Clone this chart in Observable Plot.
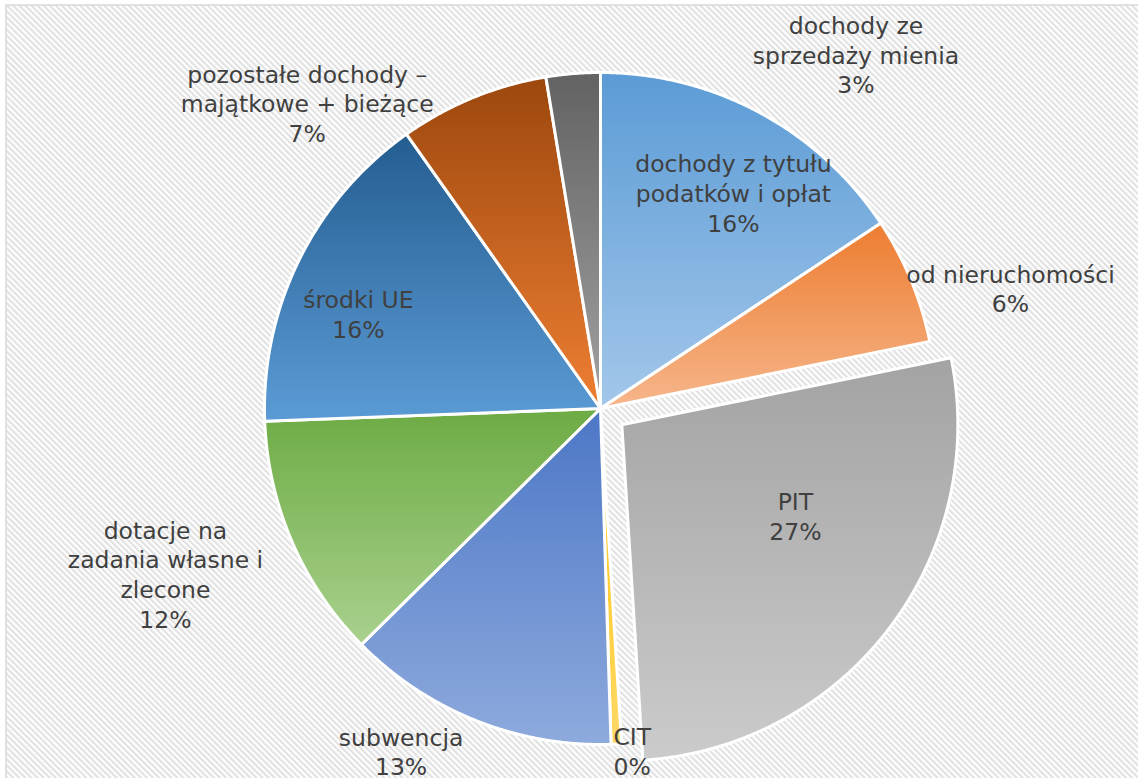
<!DOCTYPE html>
<html><head><meta charset="utf-8">
<script src="https://cdn.jsdelivr.net/npm/d3@7"></script>
<script src="https://cdn.jsdelivr.net/npm/@observablehq/plot@0.6"></script>
<style>
body{margin:0;background:#fff;overflow:hidden}
#wrap{position:relative;width:1138px;height:778px;overflow:hidden}
#chart{position:absolute;left:0;top:0}
#title{position:absolute;left:462px;top:-30.5px;transform:translateX(-50%);font:bold 28px/28px "DejaVu Sans";color:#000;white-space:nowrap}
</style></head><body>
<div id="wrap"><div id="chart"></div><div id="title">(dochody gminy według źródeł pozyskania)</div></div>
<script>
// ---- data (clockwise from 12 o'clock) ----
const categories = [
  "dochody z tytułu\npodatków i opłat",
  "od nieruchomości",
  "PIT",
  "CIT",
  "subwencja",
  "dotacje na\nzadania własne i\nzlecone",
  "środki UE",
  "pozostałe dochody –\nmajątkowe + bieżące",
  "dochody ze\nsprzedaży mienia"
];
const values = [15.7, 6.1, 27.2, 0.5, 13.1, 11.8, 15.8, 7.2, 2.6];
const percentLabels = ["16%", "6%", "27%", "0%", "13%", "12%", "16%", "7%", "3%"];
const explode = [0, 0, 0.08, 0, 0, 0, 0, 0, 0];
const colorTop    = ["#5b9bd5", "#ed7d31", "#a3a3a3", "#ffc000", "#4c77c6", "#6dab44", "#245d90", "#9c470d", "#626262"];
const colorBottom = ["#a3c7ea", "#f6b68b", "#cbcbcb", "#ffd966", "#8eaadd", "#a9d18e", "#5b9bd5", "#ee7f33", "#a2a2a2"];
// label placement: polar (angle in degrees clockwise from north, radius as fraction of pie radius)
const labelAngle  = [31.6, 73.6, 118.8, 174.7, 210.2, 249.2, 291.4, 316.2, 35.8];
const labelRadius = [0.755, 1.272, 0.662, 1.022, 1.18, 1.385, 0.774, 1.261, 1.30];

// ---- layout ----
const W = 1138, H = 778, CX = 600, CY = 408, R = 336;
const arcs = d3.pie().sort(null).startAngle(0).endAngle(2 * Math.PI)(values);
const step = Math.PI / 720;
const slices = arcs.map((a, i) => {
  const mid = (a.startAngle + a.endAngle) / 2;
  const ox = explode[i] * Math.sin(mid), oy = -explode[i] * Math.cos(mid);
  const pts = [{x: ox, y: oy}];
  const n = Math.max(2, Math.ceil((a.endAngle - a.startAngle) / step) + 1);
  for (let k = 0; k < n; k++) {
    const t = a.startAngle + (a.endAngle - a.startAngle) * k / (n - 1);
    pts.push({x: ox + Math.sin(t), y: oy - Math.cos(t)});
  }
  return pts;
});
const labels = categories.map((c, i) => {
  const t = labelAngle[i] * Math.PI / 180;
  return {x: labelRadius[i] * Math.sin(t), y: -labelRadius[i] * Math.cos(t), text: c + "\n" + percentLabels[i]};
});

const chart = Plot.plot({
  width: W, height: H, margin: 0,
  x: {domain: [-CX / R, (W - CX) / R], range: [0, W], axis: null},
  y: {domain: [-CY / R, (H - CY) / R], range: [0, H], axis: null},
  style: {background: "#fff"},
  marks: [
    Plot.frame({fill: "url(#bg)", stroke: "#d9d9d9", strokeWidth: 1.5, insetLeft: 5.5, insetTop: 4.5, insetRight: -5, insetBottom: -5}),
    ...slices.map((pts, i) => Plot.line(pts, {x: "x", y: "y", curve: "linear-closed", fill: `url(#g${i})`, stroke: "white", strokeWidth: 3, strokeLinejoin: "round"})),
    Plot.text(labels, {x: "x", y: "y", text: "text", fontSize: 23.5, lineHeight: 1.26, fill: "#404040", fontFamily: "DejaVu Sans"})
  ]
});

const defs = d3.select(chart).insert("defs", ":first-child");
const pat = defs.append("pattern").attr("id", "bg").attr("patternUnits", "userSpaceOnUse")
  .attr("width", 4.3).attr("height", 4.3).attr("patternTransform", "rotate(-45)");
pat.append("rect").attr("width", 4.3).attr("height", 4.3).attr("fill", "#ffffff");
pat.append("rect").attr("width", 2.2).attr("height", 4.3).attr("fill", "#e2e2e2");
colorTop.forEach((c, i) => {
  const g = defs.append("linearGradient").attr("id", `g${i}`).attr("x1", 0).attr("y1", 0).attr("x2", 0).attr("y2", 1);
  g.append("stop").attr("offset", "0%").attr("stop-color", c);
  g.append("stop").attr("offset", "100%").attr("stop-color", colorBottom[i]);
});
document.getElementById("chart").appendChild(chart);
</script>
</body></html>
